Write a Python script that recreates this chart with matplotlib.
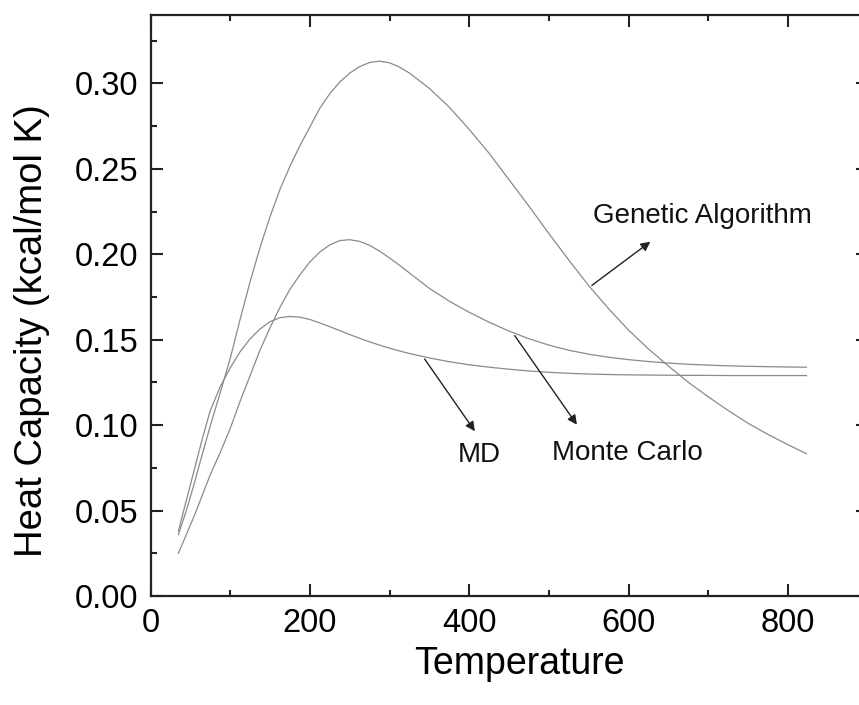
import matplotlib
matplotlib.use("Agg")
import matplotlib.pyplot as plt
from matplotlib.ticker import MultipleLocator

plt.rcParams['font.family'] = ['Liberation Sans', 'DejaVu Sans']

temperature = [35, 45, 55, 65, 75, 87.5, 100, 112.5, 125, 137.5, 150, 162.5, 175,
               187.5, 200, 212.5, 225, 237.5, 250, 262.5, 275, 287.5, 300, 312.5,
               325, 350, 375, 400, 425, 450, 475, 500, 525, 550, 575, 600, 625,
               650, 675, 700, 725, 750, 775, 800, 823]

genetic_algorithm = [0.036, 0.050, 0.066, 0.083, 0.0995, 0.119, 0.139, 0.162, 0.184,
                     0.204, 0.222, 0.238, 0.2515, 0.2635, 0.2745, 0.2855, 0.294,
                     0.3008, 0.3060, 0.3098, 0.3122, 0.3130, 0.3120, 0.3095, 0.306,
                     0.297, 0.286, 0.273, 0.259, 0.2435, 0.228, 0.212, 0.1965,
                     0.1815, 0.168, 0.1555, 0.1445, 0.1345, 0.125, 0.1165, 0.1085,
                     0.101, 0.0945, 0.0885, 0.0833]

monte_carlo = [0.025, 0.036, 0.047, 0.059, 0.071, 0.084, 0.098, 0.114, 0.129, 0.144,
               0.157, 0.169, 0.1795, 0.188, 0.1955, 0.2013, 0.2055, 0.2080, 0.2085,
               0.2075, 0.2052, 0.2018, 0.1978, 0.1935, 0.189, 0.180, 0.1725, 0.166,
               0.1602, 0.155, 0.1505, 0.1468, 0.1438, 0.1415, 0.1397, 0.1383,
               0.1372, 0.1363, 0.1356, 0.1351, 0.1347, 0.1344, 0.1342, 0.134, 0.1339]

md = [0.038, 0.056, 0.074, 0.092, 0.1085, 0.1225, 0.1335, 0.1430, 0.1505, 0.1563,
      0.1605, 0.1629, 0.1636, 0.1632, 0.1618, 0.1598, 0.1576, 0.1553, 0.1530,
      0.1508, 0.1487, 0.1468, 0.1450, 0.1434, 0.1419, 0.1393, 0.1371, 0.1353,
      0.1339, 0.1327, 0.1317, 0.1309, 0.1303, 0.1299, 0.1296, 0.1294, 0.1293,
      0.1292, 0.1291, 0.1291, 0.1290, 0.1290, 0.1290, 0.1290, 0.1290]

labels = ["Genetic Algorithm", "Monte Carlo", "MD"]

W, H = 859, 705
fig = plt.figure(figsize=(W / 100, H / 100), dpi=100)
ax = fig.add_axes([150.5 / W, (H - 596) / H, 717.3 / W, 581 / H])

line_color = '#8a8a8a'
for series in (genetic_algorithm, monte_carlo, md):
    ax.plot(temperature, series, color=line_color, lw=0.9)

ax.set_xlim(0, 900)
ax.set_ylim(0, 0.34)
ax.xaxis.set_major_locator(MultipleLocator(200))
ax.xaxis.set_minor_locator(MultipleLocator(100))
ax.yaxis.set_major_locator(MultipleLocator(0.05))
ax.yaxis.set_minor_locator(MultipleLocator(0.025))
ax.set_xticks([0, 200, 400, 600, 800])
ax.set_yticks([0.0, 0.05, 0.10, 0.15, 0.20, 0.25, 0.30])
ax.set_yticklabels(['0.00', '0.05', '0.10', '0.15', '0.20', '0.25', '0.30'])

for s in ax.spines.values():
    s.set_linewidth(1.6)
    s.set_color('#222222')
ax.tick_params(which='both', direction='in', top=True, right=True, color='#222222')
ax.tick_params(which='major', length=8.5, width=1.5, labelsize=23.5)
ax.tick_params(axis='y', which='major', pad=9)
ax.tick_params(axis='x', which='major', pad=9)
ax.tick_params(which='minor', length=4.5, width=1.5)

fig.text(519 / W, 1 - 664 / H, 'Temperature', fontsize=27, ha='center', va='center')
fig.text(32.5 / W, 1 - 331 / H, 'Heat Capacity (kcal/mol K)', fontsize=27.5,
         rotation=90, ha='center', va='center')

arrow_kw = dict(arrowstyle='-|>', color='#222222', lw=1.0, mutation_scale=14)
ax.annotate('', xy=(630, 0.2083), xytext=(551, 0.1808), arrowprops=arrow_kw)
ax.annotate('', xy=(537, 0.0989), xytext=(455, 0.1537), arrowprops=arrow_kw)
ax.annotate('', xy=(409, 0.0951), xytext=(342, 0.140), arrowprops=arrow_kw)

ax.text(555, 0.2225, labels[0], fontsize=20, ha='left', va='center', color='#111111')
ax.text(598, 0.0835, labels[1], fontsize=20, ha='center', va='center', color='#111111')
ax.text(412, 0.0825, labels[2], fontsize=20, ha='center', va='center', color='#111111')

fig.savefig('out.png', dpi=100)
